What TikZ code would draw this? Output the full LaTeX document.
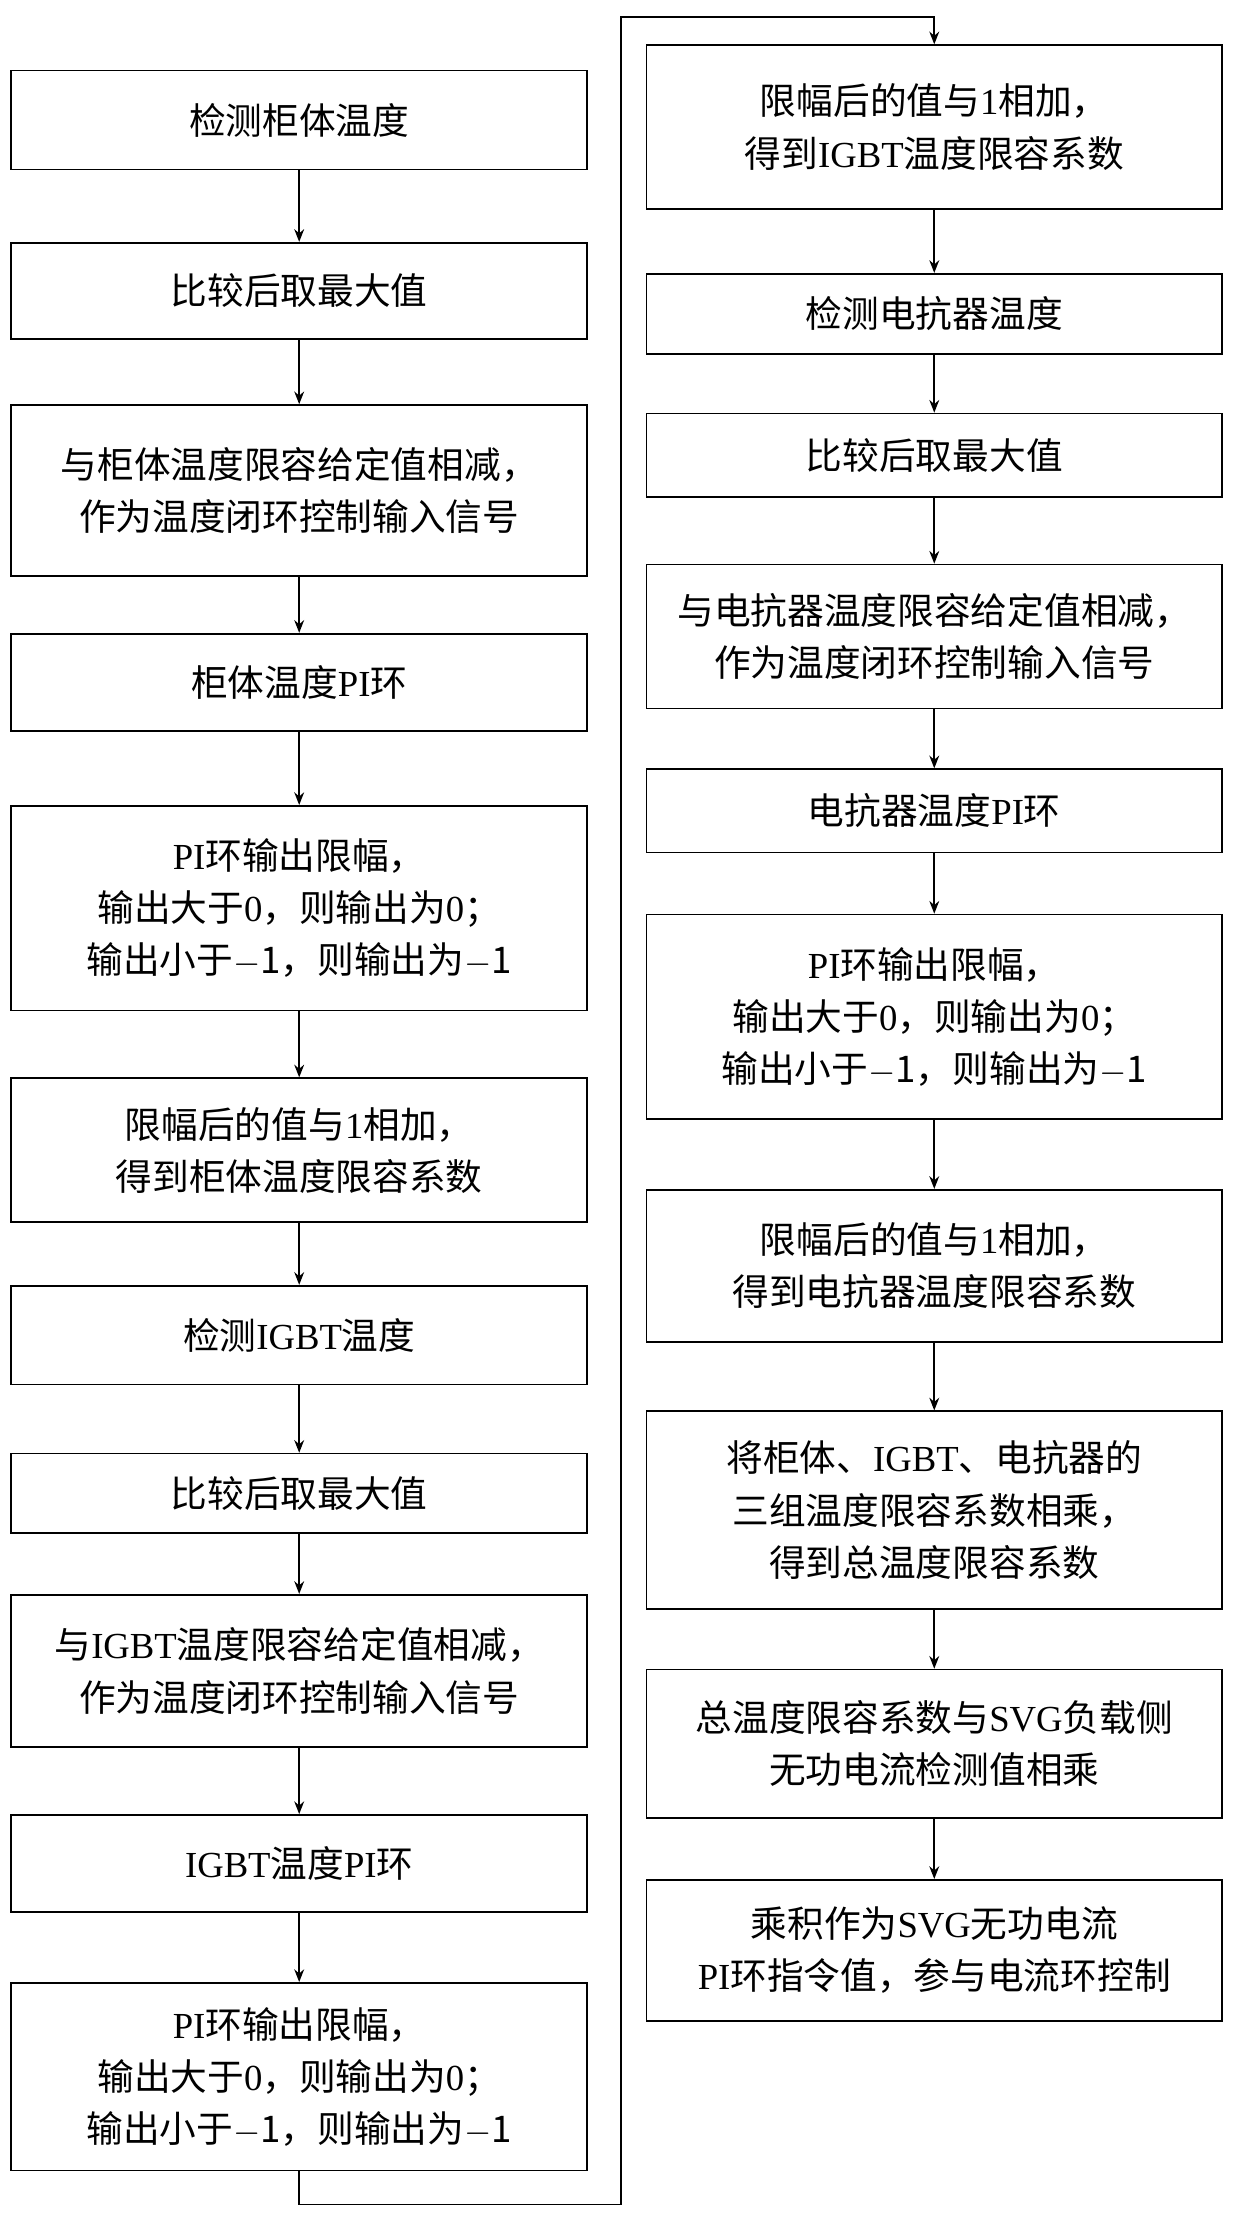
\documentclass[tikz,border=0pt]{standalone}
\usepackage{fontspec}
\setmainfont{Liberation Serif}
\newfontfamily\cjk{Noto Sans CJK SC}
\newfontfamily\latinf{Liberation Serif}
\XeTeXinterchartokenstate=1
\newXeTeXintercharclass\CJKcls
\count255="4E00 \loop \XeTeXcharclass\count255=\CJKcls \advance\count255 1 \ifnum\count255<"A000 \repeat
\count255="3000 \loop \XeTeXcharclass\count255=\CJKcls \advance\count255 1 \ifnum\count255<"3040 \repeat
\count255="FF00 \loop \XeTeXcharclass\count255=\CJKcls \advance\count255 1 \ifnum\count255<"FFF0 \repeat
\XeTeXinterchartoks 0 \CJKcls = {\cjk}
\XeTeXinterchartoks 4095 \CJKcls = {\cjk}
\XeTeXinterchartoks \CJKcls 0 = {\latinf}
\usetikzlibrary{arrows.meta}
\begin{document}
\begin{tikzpicture}[x=1pt,y=-1pt,
  bx/.style={draw,line width=1.2pt,minimum width=408pt,align=center,inner sep=0pt,font=\fontsize{26}{37}\selectfont},
  ar/.style={-{Stealth[length=9pt,width=7pt]},line width=1.2pt}]
\useasboundingbox (0,0) rectangle (880,1578);
\newcommand\bxx[5]{\node[bx,minimum height=#3-#2] (#1) at (#4,{(#2+#3)/2}) {#5};}
\bxx{a1}{50}{120}{212}{检测柜体温度}
\bxx{a2}{172}{240}{212}{比较后取最大值}
\bxx{a3}{287}{408}{212}{与柜体温度限容给定值相减，\\作为温度闭环控制输入信号}
\bxx{a4}{449}{518}{212}{柜体温度PI环}
\bxx{a5}{571}{716}{212}{PI环输出限幅，\\输出大于0，则输出为0；\\输出小于$-$1，则输出为$-$1}
\bxx{a6}{764}{866}{212}{限幅后的值与1相加，\\得到柜体温度限容系数}
\bxx{a7}{911}{981}{212}{检测IGBT温度}
\bxx{a8}{1030}{1086}{212}{比较后取最大值}
\bxx{a9}{1130}{1238}{212}{与IGBT温度限容给定值相减，\\作为温度闭环控制输入信号}
\bxx{a10}{1286}{1355}{212}{IGBT温度PI环}
\bxx{a11}{1405}{1538}{212}{PI环输出限幅，\\输出大于0，则输出为0；\\输出小于$-$1，则输出为$-$1}
\bxx{b1}{32}{148}{662}{限幅后的值与1相加，\\得到IGBT温度限容系数}
\bxx{b2}{194}{251}{662}{检测电抗器温度}
\bxx{b3}{293}{352}{662}{比较后取最大值}
\bxx{b4}{400}{502}{662}{与电抗器温度限容给定值相减，\\作为温度闭环控制输入信号}
\bxx{b5}{545}{604}{662}{电抗器温度PI环}
\bxx{b6}{648}{793}{662}{PI环输出限幅，\\输出大于0，则输出为0；\\输出小于$-$1，则输出为$-$1}
\bxx{b7}{843}{951}{662}{限幅后的值与1相加，\\得到电抗器温度限容系数}
\bxx{b8}{1000}{1140}{662}{将柜体、IGBT、电抗器的\\三组温度限容系数相乘，\\得到总温度限容系数}
\bxx{b9}{1183}{1288}{662}{总温度限容系数与SVG负载侧\\无功电流检测值相乘}
\bxx{b10}{1332}{1432}{662}{乘积作为SVG无功电流\\PI环指令值，参与电流环控制}
\foreach \i [evaluate=\i as \j using int(\i+1)] in {1,...,10} {\draw[ar] (a\i) -- (a\j);}
\foreach \i [evaluate=\i as \j using int(\i+1)] in {1,...,9} {\draw[ar] (b\i) -- (b\j);}
\coordinate (c1) at (440,1562);
\coordinate (c2) at (440,12);
\draw[ar] (a11.south) -- (212,1562) -- (c1) -- (c2) -- (b1.north |- c2) -- (b1.north);
\end{tikzpicture}
\end{document}
